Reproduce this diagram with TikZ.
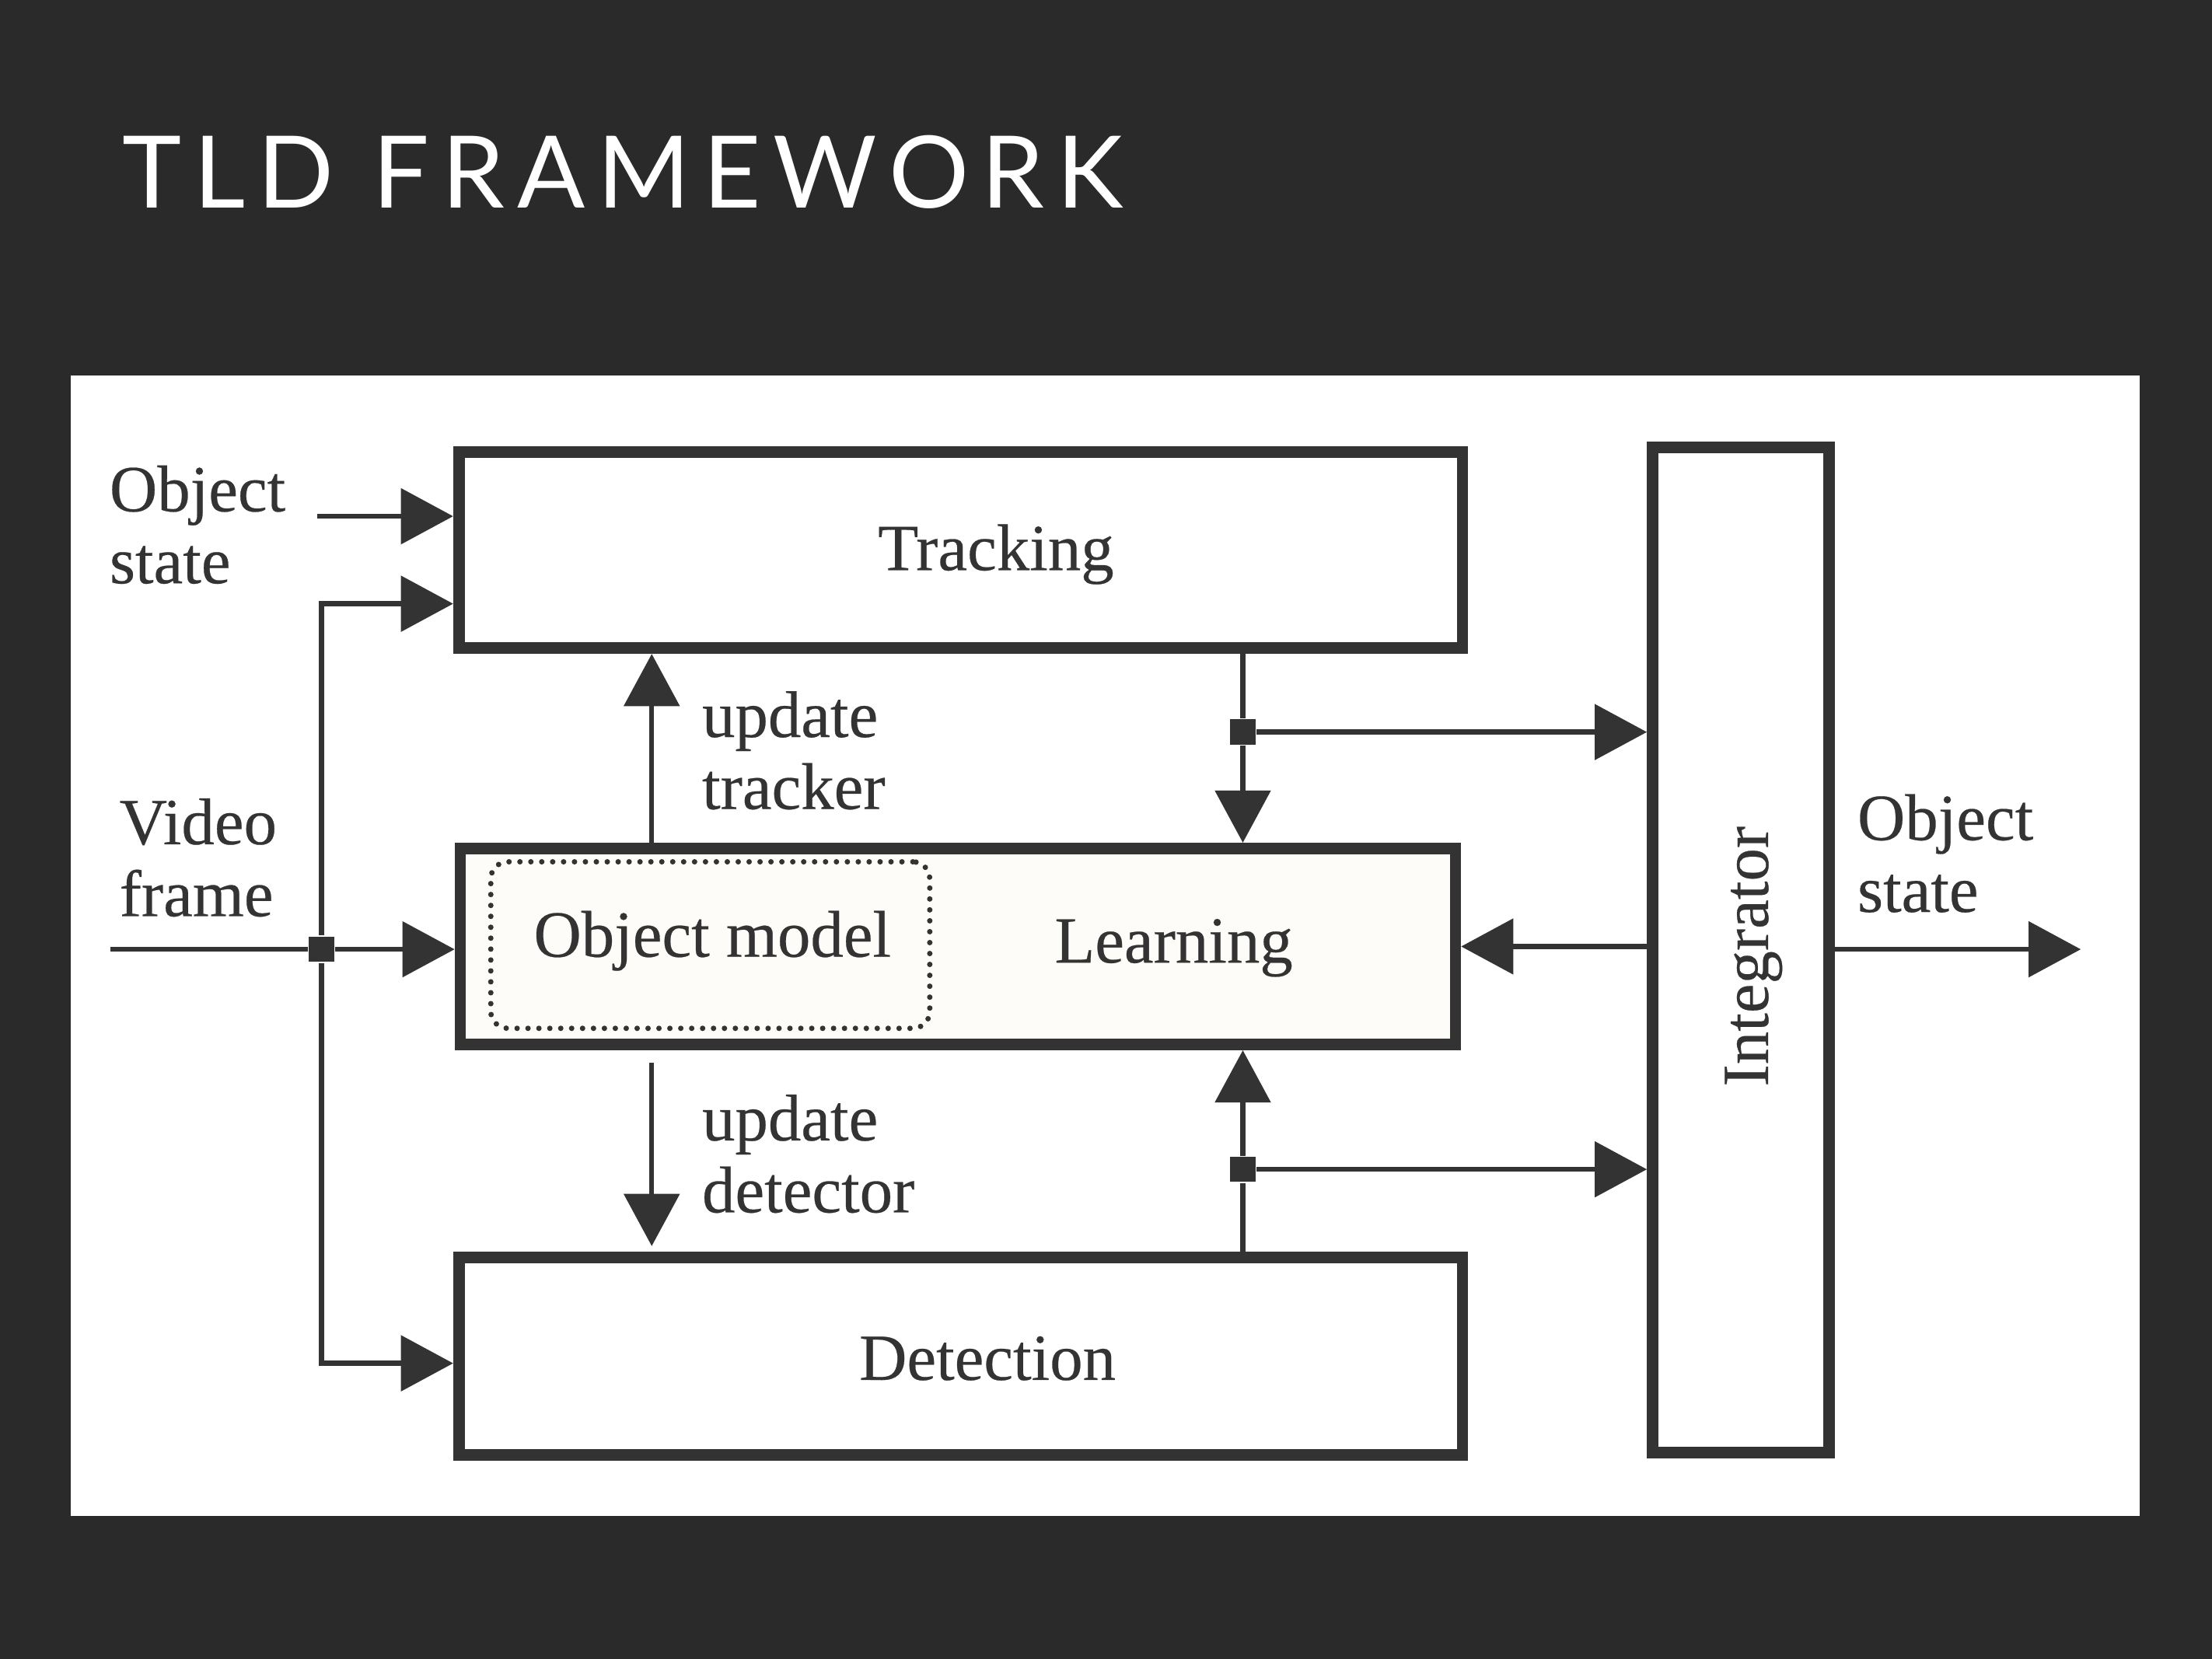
\documentclass[tikz,border=0pt]{standalone}
\usepackage{fontspec}
\setmainfont[FakeBold=0.3]{Liberation Serif}
\newfontfamily\titlefont[LetterSpace=12.5]{Lato}
\usepackage{tikz}
\usetikzlibrary{arrows.meta, positioning}
\definecolor{slide}{HTML}{2A2A2A}
\definecolor{ink}{HTML}{333333}
\definecolor{paper}{HTML}{FDFCF9}

\begin{document}
\begin{tikzpicture}[x=0.01cm, y=-0.01cm, font=\fontsize{13.3}{14.5}\selectfont, >={Triangle[length=0.37cm, width=0.39cm]},
    block/.style={draw=ink, line width=2.3pt, inner sep=0pt, minimum width=7.11cm, minimum height=1.39cm},
    wire/.style={draw=ink, line width=1pt},
    joint/.style={fill=ink, inner sep=0pt, minimum size=0.18cm},
    txt/.style={text=ink, align=left, inner sep=0pt}]
        % Slide
        \fill [slide] (0,0) rectangle (1568,1176);
        \fill [white] (50,266) rectangle (1517,1075);
        \node [text=white, anchor=west, inner sep=0pt] (title) at (86,122) {\titlefont\fontsize{20.2}{24}\selectfont TLD FRAMEWORK};

        % Blocks
        \node [block] (track) at (681,390) {};
        \node [block, fill=paper, minimum width=7.05cm] (learn) at (679,671) {};
        \node [block, minimum height=1.40cm] (detect) at (681,961.5) {};
        \node [block, minimum width=1.25cm, minimum height=7.12cm] (integ) at (1234,673.5) {};
        \node [draw=ink, line width=1.1pt, line cap=round, dash pattern=on 0pt off 2.2pt, rounded corners=0.12cm,
               minimum width=3.11cm, minimum height=1.18cm] (model) at (503.5,670) {};

        \node [txt] at (706,393) {Tracking};
        \node [txt] at (832,672) {Learning};
        \node [txt] at (700,963) {Detection};
        \node [txt] at (505,667) {Object model};
        \node [txt, rotate=90] at (1243,678) {Integrator};

        % Inputs
        \node [txt, anchor=west] (objin) at (77,372) {Object\\state};
        \node [txt, anchor=west] (video) at (84,608) {Video\\frame};
        \coordinate (sIn) at (225,366);
        \coordinate (vIn) at (78,673);
        \node [joint] (jv) at (228,673) {};
        \draw [wire, ->] (sIn) -- (sIn -| track.west);
        \draw [wire] (vIn) -- (jv);
        \draw [wire, ->] (jv) -- (jv -| learn.west);
        \draw [wire, ->] (jv) |- ([yshift=-0.38cm]track.west);
        \draw [wire, ->] (jv) |- ([yshift=-0.05cm]detect.west);

        % Updates
        \coordinate (ux) at (462,673);
        \draw [wire, ->] (ux |- learn.north) -- (ux |- track.south);
        \draw [wire, ->, shorten <=0.09cm, shorten >=0.04cm] (ux |- learn.south) -- (ux |- detect.north);
        \node [txt, anchor=west] (updt) at (497,532) {update\\tracker};
        \node [txt, anchor=west] (updd) at (497,818) {update\\detector};

        % Integrator
        \node [joint] (jt) at (881,519) {};
        \node [joint] (jd) at (881,829) {};
        \draw [wire] (jt |- track.south) -- (jt);
        \draw [wire, ->] (jt) -- (jt |- learn.north);
        \draw [wire, ->] (jt) -- (jt -| integ.west);
        \draw [wire] (jd |- detect.north) -- (jd);
        \draw [wire, ->] (jd) -- (jd |- learn.south);
        \draw [wire, ->] (jd) -- (jd -| integ.west);
        \draw [wire, ->] (integ.west |- learn.east) -- (learn.east);

        % Output
        \coordinate (sOut) at (1475,673);
        \draw [wire, ->] (integ.east |- sOut) -- (sOut);
        \node [txt, anchor=west] (objout) at (1316,605) {Object\\state};
\end{tikzpicture}
\end{document}
